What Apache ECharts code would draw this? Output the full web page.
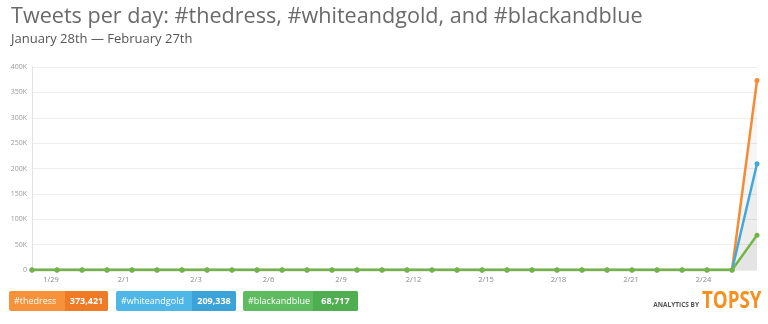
<!DOCTYPE html>
<html>
<head>
<meta charset="utf-8">
<script src="https://cdn.jsdelivr.net/npm/echarts@6/dist/echarts.min.js"></script>
<style>
html,body{margin:0;padding:0;background:#fff;}
#chart{width:768px;height:324px;}
</style>
</head>
<body>
<div id="chart"></div>
<script>
// ---- data ----
var categories = ['1/28','1/29','1/30','1/31','2/1','2/2','2/3','2/4','2/5','2/6','2/7','2/8','2/9','2/10','2/11','2/12','2/13','2/14','2/15','2/16','2/17','2/18','2/19','2/20','2/21','2/22','2/23','2/24','2/25','2/26'];
var thedress =     [0,0,0,0,0,0,0,0,0,0,0,0,0,0,0,0,0,0,0,0,0,0,0,0,0,0,0,0,0,373421];
var whiteandgold = [0,0,0,0,0,0,0,0,0,0,0,0,0,0,0,0,0,0,0,0,0,0,0,0,0,0,0,0,0,209338];
var blackandblue = [0,0,0,0,0,0,0,0,0,0,0,0,0,0,0,0,0,0,0,0,0,0,0,0,0,0,0,0,0,68717];
var xTickLabels = ['1/29','2/1','2/3','2/6','2/9','2/12','2/15','2/18','2/21','2/24',''];
var seriesNames = ['#thedress','#whiteandgold','#blackandblue'];
var totals = [373421, 209338, 68717];

var cOrange = '#f58b32', cBlue = '#3fa9dd', cGreen = '#72b543';

var chart = echarts.init(document.getElementById('chart'), null, {renderer:'canvas'});

function fmt(n){ return n.toString().replace(/\B(?=(\d{3})+(?!\d))/g, ','); }

var legendDefs = [
  {x:9, wl:56, wr:43, name:seriesNames[0], val:totals[0], cl:'#f7913a', cr:'#f07b26'},
  {x:116, wl:76, wr:44, name:seriesNames[1], val:totals[1], cl:'#4fb7e8', cr:'#3ca3d8'},
  {x:243, wl:70, wr:45, name:seriesNames[2], val:totals[2], cl:'#5fbb5f', cr:'#4fae50'}
];
var graphics = [];
legendDefs.forEach(function(d){
  graphics.push({type:'rect', left:d.x, top:291, shape:{width:d.wl+d.wr, height:20, r:2}, style:{fill:d.cl}});
  graphics.push({type:'rect', left:d.x+d.wl, top:291, shape:{width:d.wr, height:20, r:[0,2,2,0]}, style:{fill:d.cr}});
  graphics.push({type:'text', x:d.x+5, y:301, style:{text:d.name, fill:'#fff', font:'9px "Open Sans", sans-serif', align:'left', verticalAlign:'middle'}});
  graphics.push({type:'text', x:d.x+d.wl+d.wr/2, y:301, style:{text:fmt(d.val), fill:'#fff', font:'bold 9px "Open Sans", sans-serif', align:'center', verticalAlign:'middle'}});
});
graphics.push({type:'text', x:699, y:305, style:{text:'ANALYTICS BY', fill:'#555', font:'bold 6.5px "Open Sans", sans-serif', align:'right', verticalAlign:'middle'}});
graphics.push({type:'text', x:702, y:301, scaleX:0.78, scaleY:1, originX:0, originY:0,
  style:{text:'TOPSY', fill:'#f7901e', font:'bold 24px "Open Sans", sans-serif', align:'left', verticalAlign:'middle'}});

var option = {
  animation:false,
  backgroundColor:'#fff',
  title:{
    text:'Tweets per day: #thedress, #whiteandgold, and #blackandblue',
    subtext:'January 28th — February 27th',
    left:6, top:1,
    itemGap:5,
    textStyle:{fontFamily:'Open Sans', fontSize:21.6, fontWeight:'normal', color:'#6a6a6a'},
    subtextStyle:{fontFamily:'Open Sans', fontSize:13, color:'#555'}
  },
  grid:{left:32, right:11, top:67, bottom:54, containLabel:false},
  xAxis:[
    {type:'category', data:categories, boundaryGap:false,
     axisLine:{show:false}, axisTick:{show:false}, axisLabel:{show:false}, splitLine:{show:false}},
    {type:'value', min:0, max:30, interval:3, position:'bottom',
     axisLine:{show:false}, axisTick:{show:false}, splitLine:{show:false},
     axisLabel:{show:true, margin:6, fontSize:7.5, color:'#888', fontFamily:'Open Sans',
       padding:[0,0,0,38],
       formatter:function(v){ return xTickLabels[Math.round(v/3)] || ''; }}}
  ],
  yAxis:{type:'value', min:0, max:400000, interval:50000,
    axisLine:{show:true, lineStyle:{color:'#dde3e8', width:1}},
    axisTick:{show:false},
    splitLine:{show:true, lineStyle:{color:'#eeeeee', width:1}},
    axisLabel:{margin:5, fontSize:7, color:'#999', fontFamily:'Open Sans',
      formatter:function(v){ return v===0 ? '0' : (v/1000)+'K'; }}
  },
  graphic:graphics,
  series:[
    {name:seriesNames[0], type:'line', xAxisIndex:0, data:thedress, color:cOrange,
     symbol:'circle', symbolSize:5, lineStyle:{width:2.5, color:cOrange}, itemStyle:{color:cOrange},
     areaStyle:{color:'rgba(0,0,0,0.05)'}},
    {name:seriesNames[1], type:'line', xAxisIndex:0, data:whiteandgold, color:cBlue,
     symbol:'circle', symbolSize:5, lineStyle:{width:2.5, color:cBlue}, itemStyle:{color:cBlue},
     areaStyle:{color:'rgba(0,0,0,0.05)'}},
    {name:seriesNames[2], type:'line', xAxisIndex:0, data:blackandblue, color:cGreen,
     symbol:'circle', symbolSize:5, lineStyle:{width:2.5, color:cGreen}, itemStyle:{color:cGreen},
     areaStyle:{color:'rgba(0,0,0,0.05)'}}
  ]
};
chart.setOption(option);
</script>
</body>
</html>
